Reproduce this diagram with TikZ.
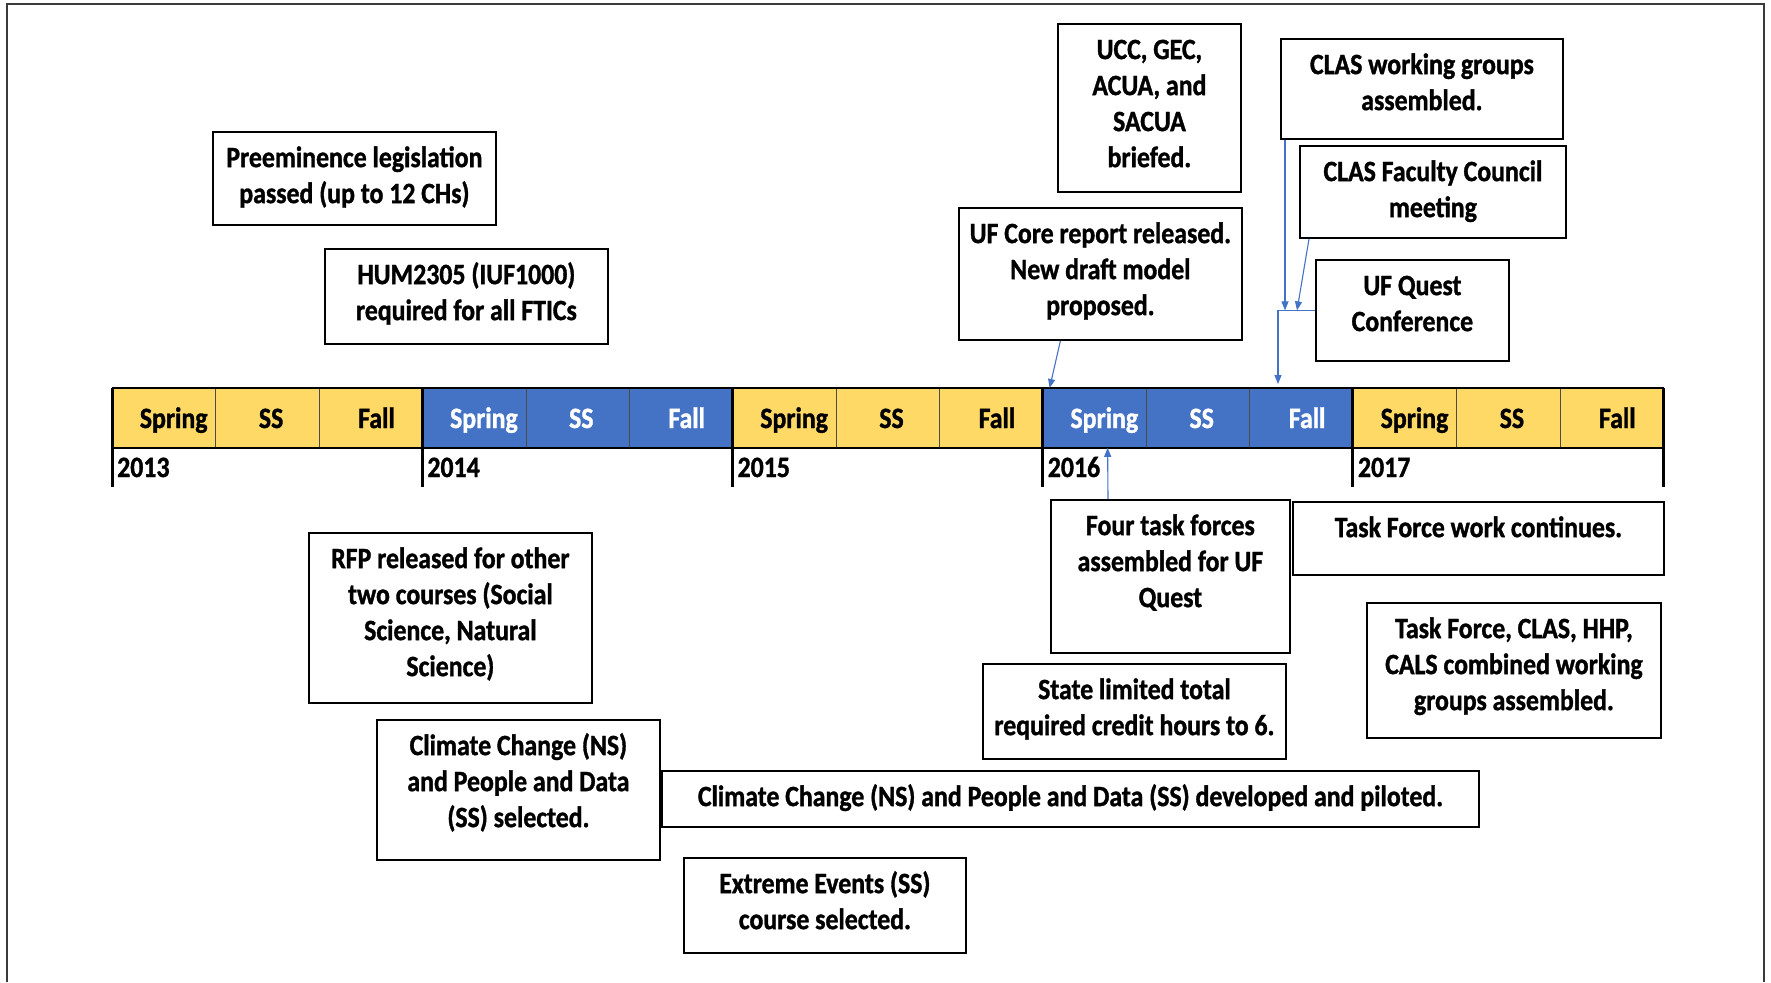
\documentclass[tikz,border=0pt]{standalone}
\usepackage{fontspec}
\setmainfont{Carlito}[FakeStretch=0.875, BoldFeatures={FakeBold=1.2}]
\usepackage{xcolor}
\usetikzlibrary{arrows.meta}
\definecolor{tlgold}{HTML}{FFD966}
\definecolor{tlblue}{HTML}{4472C4}
\definecolor{framec}{HTML}{3A3A3A}
\newcommand{\tlfont}{\fontsize{29.5}{36}\selectfont\bfseries}
\newcommand{\evtext}[3]{\parbox[t][#2pt][t]{#1pt}{\centering\vspace*{10pt}\strut #3}}
\tikzset{
  evbox/.style={draw=black, line width=1.8pt, fill=white, inner sep=0pt, anchor=north west, font=\tlfont},
  cell/.style={draw=black!70, line width=0.8pt, inner sep=0pt, anchor=north west, minimum width=103.4pt, minimum height=59pt},
  season/.style={font=\tlfont, inner sep=0pt, anchor=base},
  yearlab/.style={font=\tlfont, inner sep=0pt, anchor=base west},
  barline/.style={draw=black, line width=2.4pt},
  tick/.style={draw=black, line width=3pt},
  link/.style={draw=tlblue, line width=1.1pt, -{Triangle[length=9pt,width=7pt]}},
  joint/.style={draw=tlblue, line width=1.1pt},
  outer/.style={draw=framec, line width=2pt},
}
\begin{document}
\begin{tikzpicture}[x=1pt, y=-1pt]
  \useasboundingbox (0,0) rectangle (1771,982);
  \draw[outer] (7,982) -- (7,4) -- (1764,4) -- (1764,982);
  % semesters
  \foreach \yr/\cellc/\txtc [count=\k from 0] in {2013/tlgold/black,2014/tlblue/white,2015/tlgold/black,2016/tlblue/white,2017/tlgold/black}{
    \foreach \season/\dx [count=\j from 0] in {Spring/10,SS/4,Fall/6}{
      \pgfmathsetmacro\xl{112+(3*\k+\j)*103.4}
      \node[cell, fill=\cellc] (c\yr-\j) at (\xl,388) {};
      \node[season, text=\txtc] (t\yr-\j) at (\xl+51.7+\dx,428) {\season};
    }
    \node[yearlab] (y\yr) at (112+3*\k*103.4+5,477) {\yr};
    \draw[tick] (c\yr-0.north west) -- ++(0,99);
  }
  \draw[tick] (c2017-2.north east) -- ++(0,99);
  \draw[barline] (c2013-0.north west) -- (c2017-2.north east);
  \draw[barline] (c2013-0.south west) -- (c2017-2.south east);
  % events
  \node[evbox] (prelaw) at (212,131) {\evtext{283}{93}{Preeminence legislation\\passed (up to 12 CHs)}};
  \node[evbox] (humreq) at (324,248) {\evtext{283}{95}{HUM2305 (IUF1000)\\required for all FTICs}};
  \node[evbox] (ucc) at (1057,23) {\evtext{183}{168}{UCC, GEC,\\ACUA, and\\SACUA\\briefed.}};
  \node[evbox] (claswg) at (1280,38) {\evtext{282}{100}{CLAS working groups\\assembled.}};
  \node[evbox] (clasfc) at (1299,145) {\evtext{266}{92}{CLAS Faculty Council\\meeting}};
  \node[evbox] (quest) at (1315,259) {\evtext{193}{101}{UF Quest\\Conference}};
  \node[evbox] (core) at (958,207) {\evtext{283}{132}{UF Core report released.\\New draft model\\proposed.}};
  \node[evbox] (rfp) at (308,532) {\evtext{283}{170}{RFP released for other\\two courses (Social\\Science, Natural\\Science)}};
  \node[evbox] (ccsel) at (376,719) {\evtext{283}{140}{Climate Change (NS)\\and People and Data\\(SS) selected.}};
  \node[evbox] (ccdev) at (661,770) {\evtext{817}{56}{Climate Change (NS) and People and Data (SS) developed and piloted.}};
  \node[evbox] (extreme) at (683,857) {\evtext{282}{95}{Extreme Events (SS)\\course selected.}};
  \node[evbox] (tforce) at (1050,499) {\evtext{239}{153}{Four task forces\\assembled for UF\\Quest}};
  \node[evbox] (tfwork) at (1292,501) {\evtext{371}{73}{Task Force work continues.}};
  \node[evbox] (tfclas) at (1366,602) {\evtext{294}{135}{Task Force, CLAS, HHP,\\CALS combined working\\groups assembled.}};
  \node[evbox] (state) at (982,663) {\evtext{303}{95}{State limited total\\required credit hours to 6.}};
  % arrows
  \coordinate (qjoin) at ([xshift=-37pt]quest.west);
  \draw[link] ([xshift=-40pt]core.south) -- ([xshift=7pt]c2016-0.north west);
  \draw[link] ([xshift=58pt]tforce.north west) -- ([xshift=65pt]c2016-0.south west);
  \draw[joint] (quest.west) -- (qjoin);
  \draw[link, shorten >=4pt] (qjoin) -- (qjoin |- c2016-2.north);
  \draw[link] ([xshift=5pt]claswg.south west) -- ([xshift=7pt]qjoin);
  \draw[link] ([xshift=10pt]clasfc.south west) -- ([xshift=19pt]qjoin);
\end{tikzpicture}
\end{document}
